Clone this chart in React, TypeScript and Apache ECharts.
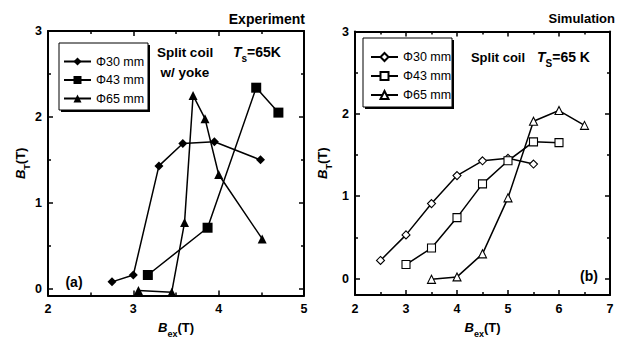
import React, { useEffect, useRef } from "react";
import * as echarts from "echarts";

const FONT = "'Liberation Sans', Arial, Helvetica, sans-serif";

// Legend labels shared by both panels
const diameters = ["Φ30 mm", "Φ43 mm", "Φ65 mm"];

// (a) Experiment: split coil with yoke, Ts = 65 K
const expX30 = [2.75, 3.0, 3.3, 3.58, 3.95, 4.49];
const expY30 = [0.08, 0.16, 1.43, 1.69, 1.71, 1.5];
const expX43 = [3.17, 3.87, 4.44, 4.7];
const expY43 = [0.16, 0.71, 2.34, 2.05];
const expX65 = [3.06, 3.45, 3.6, 3.7, 3.84, 4.0, 4.51];
const expY65 = [-0.02, -0.04, 0.77, 2.25, 1.98, 1.33, 0.58];

// (b) Simulation: split coil, Ts = 65 K
const simX30 = [2.5, 3.0, 3.5, 4.0, 4.5, 5.0, 5.5];
const simY30 = [0.22, 0.53, 0.91, 1.25, 1.43, 1.46, 1.39];
const simX43 = [3.0, 3.5, 4.0, 4.5, 5.0, 5.5, 6.0];
const simY43 = [0.17, 0.37, 0.74, 1.15, 1.43, 1.66, 1.65];
const simX65 = [3.5, 4.0, 4.5, 5.0, 5.5, 6.0, 6.5];
const simY65 = [-0.01, 0.02, 0.3, 0.98, 1.91, 2.04, 1.86];

// Axis ranges and ticks
const expXRange = [2, 5];
const simXRange = [2, 7];
const expYMin = -0.08;
const simYMin = -0.2;
const yMax = 3;
const yMajor = [0, 1, 2, 3];
const yMinor = [0.5, 1.5, 2.5];

const zip = (xs: number[], ys: number[]) => xs.map((x, i) => [x, ys[i]]);

const axisLineStyle = { color: "#000", width: 2 };
const tickLineStyle = { color: "#000", width: 1.5 };

const subRich = {
  b: { fontStyle: "italic", fontWeight: "bold", fontSize: 13, fontFamily: FONT, color: "#000", lineHeight: 22, verticalAlign: "middle" },
  s: { fontWeight: "bold", fontSize: 9, fontFamily: FONT, color: "#000", lineHeight: 22, verticalAlign: "bottom" },
  n: { fontWeight: "bold", fontSize: 13, fontFamily: FONT, color: "#000", lineHeight: 22, verticalAlign: "middle" },
};

function xAxes(gridIndex: number, range: number[], nameGap: number) {
  const common = {
    type: "value",
    gridIndex,
    min: range[0],
    max: range[1],
    interval: 1,
    splitLine: { show: false },
    axisLine: { show: true, onZero: false, lineStyle: axisLineStyle },
    axisTick: { show: true, inside: true, length: 5, lineStyle: tickLineStyle },
    minorTick: { show: true, splitNumber: 2, length: 3, lineStyle: tickLineStyle },
  };
  return [
    {
      ...common,
      position: "bottom",
      name: "{b|B}{s|ex}{n|(T)}",
      nameLocation: "middle",
      nameGap,
      nameTextStyle: { rich: subRich },
      axisLabel: { show: true, margin: 7, fontSize: 12.5, fontWeight: "bold", color: "#000", fontFamily: FONT },
    },
    { ...common, position: "top", axisLabel: { show: false } },
  ];
}

function yAxes(gridIndex: number, min: number, nameGap: number) {
  const base = { type: "value", gridIndex, min, max: yMax, splitLine: { show: false } };
  const majorTick = { show: true, inside: true, length: 5, customValues: yMajor, lineStyle: tickLineStyle };
  const minor = {
    ...base,
    axisLine: { show: false },
    axisLabel: { show: false },
    axisTick: { show: true, inside: true, length: 3, customValues: yMinor, lineStyle: tickLineStyle },
  };
  return [
    {
      ...base,
      position: "left",
      axisLine: { show: true, onZero: false, lineStyle: axisLineStyle },
      axisTick: majorTick,
      axisLabel: { show: true, customValues: yMajor, margin: 6, fontSize: 12.5, fontWeight: "bold", color: "#000", fontFamily: FONT },
      name: "{b|B}{s|T}{n|(T)}",
      nameLocation: "middle",
      nameGap,
      nameTextStyle: { rich: subRich },
    },
    { ...minor, position: "left" },
    {
      ...base,
      position: "right",
      axisLine: { show: true, onZero: false, lineStyle: axisLineStyle },
      axisTick: majorTick,
      axisLabel: { show: false },
    },
    { ...minor, position: "right" },
  ];
}

function lineSeries(name: string, xIdx: number, yIdx: number, xs: number[], ys: number[], symbol: string, size: number, open: boolean) {
  return {
    type: "line",
    name,
    xAxisIndex: xIdx,
    yAxisIndex: yIdx,
    data: zip(xs, ys),
    symbol,
    symbolSize: size,
    showAllSymbol: true,
    lineStyle: { color: "#000", width: 1.5 },
    itemStyle: open ? { color: "#fff", borderColor: "#000", borderWidth: 1.1 } : { color: "#000", borderColor: "#000", borderWidth: 0 },
    emphasis: { disabled: true },
    z: 3,
  };
}

function legendBox(x: number, y: number, w: number, h: number) {
  return [
    { type: "rect", z: 1, shape: { x: x + 2, y: y + 2, width: w, height: h }, style: { fill: "#000" } },
    { type: "rect", z: 2, shape: { x, y, width: w, height: h }, style: { fill: "#fff", stroke: "#000", lineWidth: 1 } },
  ];
}

function label(text: string, x: number, y: number, size: number, align = "left") {
  return {
    type: "text",
    z: 5,
    x,
    y,
    style: { text, fontSize: size, fontWeight: "bold", fontFamily: FONT, fill: "#000", align, verticalAlign: "middle" },
  };
}

function tempLabel(sub: string, rest: string, x: number, y: number) {
  return {
    type: "text",
    z: 5,
    x,
    y,
    style: {
      text: `{b|T}{s|${sub}}{n|${rest}}`,
      align: "left",
      verticalAlign: "middle",
      rich: {
        b: { ...subRich.b, fontSize: 14 },
        s: { ...subRich.s, fontSize: 10 },
        n: { ...subRich.n, fontSize: 14 },
      },
    },
  };
}

const legendText = { fontSize: 12.5, fontFamily: FONT, color: "#000", lineHeight: 15 };
const stripPrefix = (n: string) => n.replace(/^\S+ /, "");

export default function App() {
  const ref = useRef<HTMLDivElement>(null);

  useEffect(() => {
    if (!ref.current) return;
    const chart = echarts.init(ref.current, undefined, { renderer: "svg" });
    const expNames = diameters.map((d) => "exp " + d);
    const simNames = diameters.map((d) => "sim " + d);

    chart.setOption({
      animation: false,
      backgroundColor: "#fff",
      textStyle: { fontFamily: FONT },
      title: [
        { text: "Experiment", right: 318, top: 12, padding: 0, textStyle: { fontSize: 14, fontWeight: "bold", fontFamily: FONT, color: "#000" } },
        { text: "Simulation", right: 8, top: 12, padding: 0, textStyle: { fontSize: 13, fontWeight: "bold", fontFamily: FONT, color: "#000" } },
      ],
      grid: [
        { left: 48, top: 31, width: 256, height: 274.6, containLabel: false },
        { left: 355, top: 31.5, width: 255, height: 270.8, containLabel: false },
      ],
      xAxis: [...xAxes(0, expXRange, 14), ...xAxes(1, simXRange, 21)],
      yAxis: [...yAxes(0, expYMin, 15.5), ...yAxes(1, simYMin, 21.5)],
      legend: [
        {
          data: expNames,
          formatter: stripPrefix,
          orient: "vertical",
          left: 63,
          top: 54,
          padding: 0,
          itemWidth: 27,
          itemHeight: 10,
          itemGap: 3.5,
          selectedMode: false,
          textStyle: legendText,
          z: 6,
        },
        {
          data: simNames,
          formatter: stripPrefix,
          orient: "vertical",
          left: 370,
          top: 49.5,
          padding: 0,
          itemWidth: 27,
          itemHeight: 10,
          itemGap: 4,
          selectedMode: false,
          textStyle: legendText,
          z: 6,
        },
      ],
      graphic: [
        ...legendBox(59, 43, 89, 67),
        ...legendBox(363, 38, 89, 69),
        label("Split coil", 185, 52, 13.5, "center"),
        label("w/ yoke", 185, 72, 13.5, "center"),
        tempLabel("s", "=65K", 233, 52),
        label("(a)", 74, 282, 14, "center"),
        label("Split coil", 498, 57, 13, "center"),
        tempLabel("S", "=65 K", 537, 57),
        label("(b)", 589, 276, 14, "center"),
      ],
      series: [
        lineSeries(expNames[0], 0, 0, expX30, expY30, "diamond", 9, false),
        lineSeries(expNames[1], 0, 0, expX43, expY43, "rect", 10, false),
        lineSeries(expNames[2], 0, 0, expX65, expY65, "triangle", 9, false),
        lineSeries(simNames[0], 2, 4, simX30, simY30, "diamond", 8, true),
        lineSeries(simNames[1], 2, 4, simX43, simY43, "rect", 8, true),
        lineSeries(simNames[2], 2, 4, simX65, simY65, "triangle", 8, true),
      ],
    });

    return () => chart.dispose();
  }, []);

  return <div ref={ref} style={{ position: "fixed", left: 0, top: 0, width: 623, height: 343 }} />;
}
